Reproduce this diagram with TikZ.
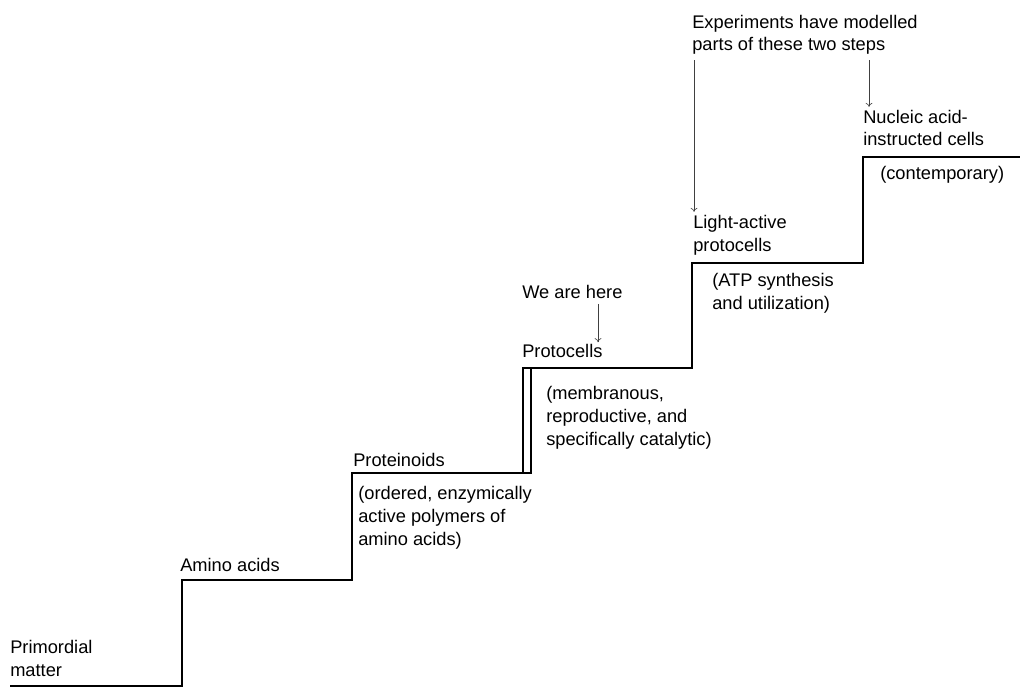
\documentclass[tikz,border=0pt]{standalone}
\usepackage{fontspec}
\setmainfont{Liberation Sans}
\usetikzlibrary{arrows.meta}
\begin{document}
\begin{tikzpicture}[x=0.75pt, y=-0.75pt,
  stair/.style={line width=2.2pt},
  steptext/.style={anchor=base west, inner sep=0pt, align=left,
    font=\fontsize{13.7}{17.2}\selectfont},
  pointer/.style={-{To[length=3pt, width=5pt]}, line width=0.45pt, black!75}]

  % Frame
  \useasboundingbox (0,0) rectangle (1020,688);

  % Staircase
  \draw[stair] (10,686) -| (182,580) -| (352,473) -| (523,368)
    -| (692,263) -| (863,157) -- (1020,157);
  \draw[stair] (523,473) rectangle (531,368);

  % Step names (base = last line)
  \node[steptext] (primordial) at (10,676) {Primordial\\matter};
  \node[steptext] (amino) at (180,571) {Amino acids};
  \node[steptext] (proteinoids) at (353,466) {Proteinoids};
  \node[steptext] (protocells) at (522,357) {Protocells};
  \node[steptext] (light) at (693,251) {Light-active\\protocells};
  \node[steptext] (nucleic) at (863,146) {Nucleic acid-\\instructed cells};

  % Descriptions
  \node[steptext] (ordered) at (358,545) {(ordered, enzymically\\active polymers of\\amino acids)};
  \node[steptext] (membranous) at (546,445) {(membranous,\\reproductive, and\\specifically catalytic)};
  \node[steptext] (atp) at (712,309) {(ATP synthesis\\and utilization)};
  \node[steptext] (contemporary) at (880,180) {(contemporary)};

  % Notes
  \node[steptext] (here) at (522,298) {We are here};
  \node[steptext] (experiments) at (692,51) {Experiments have modelled\\parts of these two steps};

  % Pointers
  \coordinate (hereline) at (598,0);
  \coordinate (leftline) at (694,0);
  \coordinate (rightline) at (869,0);
  \draw[pointer, shorten <=4pt, shorten >=1pt] (here.south -| hereline) -- (protocells.north -| hereline);
  \draw[pointer, shorten <=4pt, shorten >=2pt] (experiments.south -| leftline) -- (light.north -| leftline);
  \draw[pointer, shorten <=4pt, shorten >=2pt] (experiments.south -| rightline) -- (nucleic.north -| rightline);

\end{tikzpicture}
\end{document}
